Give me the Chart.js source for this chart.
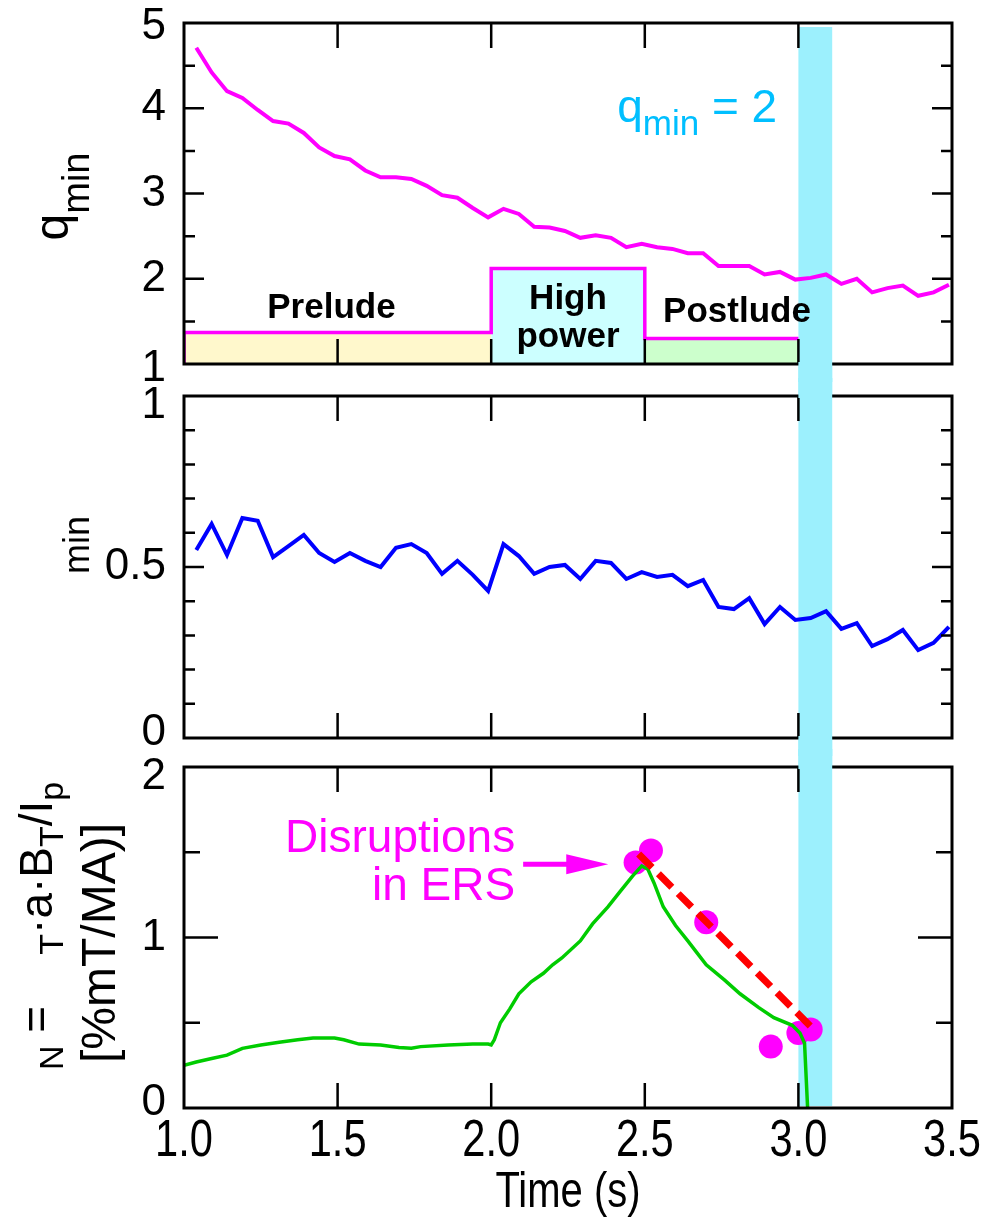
<!DOCTYPE html>
<html>
<head>
<meta charset="utf-8">
<script src="https://cdn.jsdelivr.net/npm/chart.js@4.4.1/dist/chart.umd.min.js"></script>
<style>
  body { margin: 0; background: #fff; }
  #wrap { position: relative; width: 985px; height: 1220px; overflow: hidden; }
  canvas { position: absolute; left: 0; }
</style>
</head>
<body>
<div id="wrap">
  <canvas id="c1" width="985" height="451" style="top:-32px"></canvas>
  <canvas id="c2" width="985" height="452" style="top:341px"></canvas>
  <canvas id="c3" width="985" height="508" style="top:712px"></canvas>
</div>
<script>
// ---- data ----
const sampleTime = [1.04, 1.09, 1.14, 1.19, 1.24, 1.29, 1.34, 1.39, 1.44, 1.49,
  1.54, 1.59, 1.64, 1.69, 1.74, 1.79, 1.84, 1.89, 1.94, 1.99,
  2.04, 2.09, 2.14, 2.19, 2.24, 2.29, 2.34, 2.39, 2.44, 2.49,
  2.54, 2.59, 2.64, 2.69, 2.74, 2.79, 2.84, 2.89, 2.94, 2.99,
  3.04, 3.09, 3.14, 3.19, 3.24, 3.29, 3.34, 3.39, 3.44, 3.49];
const qMin = [4.71, 4.42, 4.20, 4.12, 3.98, 3.85, 3.82, 3.71, 3.54, 3.44,
  3.40, 3.27, 3.19, 3.19, 3.17, 3.09, 2.98, 2.95, 2.83, 2.72,
  2.82, 2.76, 2.61, 2.60, 2.56, 2.48, 2.51, 2.48, 2.37, 2.41,
  2.37, 2.35, 2.30, 2.30, 2.15, 2.15, 2.15, 2.05, 2.08, 1.99,
  2.01, 2.05, 1.94, 2.00, 1.84, 1.89, 1.92, 1.80, 1.84, 1.93];
const betaMin = [0.550, 0.626, 0.535, 0.643, 0.635, 0.529, 0.561, 0.594, 0.541, 0.515,
  0.541, 0.518, 0.500, 0.556, 0.567, 0.541, 0.480, 0.518, 0.477, 0.430,
  0.567, 0.532, 0.480, 0.500, 0.506, 0.465, 0.518, 0.512, 0.465, 0.485,
  0.471, 0.477, 0.444, 0.462, 0.383, 0.377, 0.409, 0.333, 0.383, 0.345,
  0.351, 0.371, 0.319, 0.336, 0.269, 0.289, 0.316, 0.257, 0.278, 0.325];

const betaTime = [1.00, 1.04, 1.09, 1.14, 1.19, 1.25, 1.31, 1.37, 1.42, 1.49,
  1.52, 1.57, 1.64, 1.70, 1.74, 1.77, 1.86, 1.94, 1.99, 2.00,
  2.01, 2.03, 2.06, 2.09, 2.13, 2.17, 2.20, 2.23, 2.29, 2.33,
  2.38, 2.42, 2.46, 2.49, 2.51, 2.53, 2.56, 2.60, 2.64, 2.67,
  2.70, 2.76, 2.81, 2.87, 2.92, 2.98, 3.005, 3.02, 3.03];
const betaN = [0.25, 0.27, 0.29, 0.31, 0.35, 0.37, 0.385, 0.40, 0.41, 0.41,
  0.40, 0.375, 0.37, 0.355, 0.35, 0.36, 0.37, 0.375, 0.375, 0.37,
  0.40, 0.50, 0.58, 0.67, 0.74, 0.79, 0.84, 0.88, 0.98, 1.08,
  1.18, 1.27, 1.36, 1.42, 1.40, 1.32, 1.18, 1.07, 0.98, 0.91,
  0.84, 0.75, 0.67, 0.59, 0.53, 0.485, 0.44, 0.38, 0.0];

const disruptTime = [2.47, 2.52, 2.70, 2.91, 3.00, 3.04];
const disruptBeta = [1.44, 1.51, 1.09, 0.36, 0.44, 0.46];
const trendTime = [2.48, 3.05];
const trendBeta = [1.49, 0.46];

const phaseNames = ['Prelude', 'High power', 'Postlude'];
const phaseStart = [1.0, 2.0, 2.5];
const phaseEnd = [2.0, 2.5, 3.0];
const phaseLevel = [1.37, 2.12, 1.30];

const bandTime = [3.0, 3.11];   // q_min = 2 crossing

const xTicks = [1.0, 1.5, 2.0, 2.5, 3.0, 3.5];
const qTicks = [1, 2, 3, 4, 5];
const betaMinTicks = [0, 0.5, 1];
const betaNTicks = [0, 1, 2];

// ---- styles ----
const FONT = '"Liberation Sans", Arial, Helvetica, sans-serif';
const BAND = '#9cf0fd';
const PHASE_COLORS = ['#fff8cc', '#ccffff', '#ccffcc'];
const MAGENTA = '#ff00ff';
const GAP = 18;   // half of the white space between panels

const pts = (xs, ys) => xs.map((t, i) => ({ x: t, y: ys[i] }));

// text with subscripts, optionally rotated / squeezed
function rich(ctx, parts, x, y, o) {
  o = o || {};
  ctx.save();
  ctx.translate(x, y);
  if (o.rotate) ctx.rotate(-Math.PI / 2);
  if (o.squeeze) ctx.scale(o.squeeze, 1);
  ctx.fillStyle = o.color || '#000';
  ctx.textBaseline = o.baseline || 'alphabetic';
  ctx.textAlign = 'left';
  const fontOf = p => (o.bold ? 'bold ' : '') + p[1] + 'px ' + FONT;
  const w = parts.map(p => { ctx.font = fontOf(p); return ctx.measureText(p[0]).width; });
  const total = w.reduce((s, v) => s + v, 0);
  let u = o.align === 'center' ? -total / 2 : (o.align === 'right' ? -total : 0);
  parts.forEach((p, i) => {
    ctx.font = fontOf(p);
    ctx.fillText(p[0], u, p[2] || 0);
    u += w[i];
  });
  ctx.restore();
}

// frame, inward ticks, tick labels and the cyan band
const decor = {
  id: 'decor',
  beforeDatasetsDraw(chart, args, o) {
    const { ctx, chartArea: a, scales: { x } } = chart;
    const x0 = x.getPixelForValue(bandTime[0]), x1 = x.getPixelForValue(bandTime[1]);
    const top = o.first ? a.top + 4 : a.top - GAP;
    const bot = o.last ? a.bottom - 2 : a.bottom + GAP;
    ctx.save();
    ctx.fillStyle = BAND;
    ctx.fillRect(x0, top, x1 - x0, bot - top);
    ctx.restore();
  },
  afterDatasetsDraw(chart, args, o) {
    const { ctx, chartArea: a, scales: { x, y } } = chart;
    ctx.save();
    ctx.strokeStyle = '#000';
    ctx.lineWidth = 3;
    ctx.strokeRect(a.left, a.top, a.right - a.left, a.bottom - a.top);

    ctx.lineWidth = 2.5;
    ctx.beginPath();
    xTicks.slice(1, -1).forEach(v => {
      const px = x.getPixelForValue(v);
      ctx.moveTo(px, a.top); ctx.lineTo(px, a.top + 25);
      ctx.moveTo(px, a.bottom); ctx.lineTo(px, a.bottom - 25);
    });
    const yt = (v, len) => {
      const py = y.getPixelForValue(v);
      ctx.moveTo(a.left, py); ctx.lineTo(a.left + len, py);
      ctx.moveTo(a.right, py); ctx.lineTo(a.right - len, py);
    };
    o.yMajor.forEach(v => yt(v, o.majorLen));
    o.yMinor.forEach(v => yt(v, o.minorLen));
    ctx.stroke();

    // band runs over the frame between the panels
    const x0 = x.getPixelForValue(bandTime[0]), x1 = x.getPixelForValue(bandTime[1]);
    ctx.fillStyle = BAND;
    if (!o.first) ctx.fillRect(x0, a.top - GAP, x1 - x0, GAP + 2);
    if (!o.last) ctx.fillRect(x0, a.bottom - 2, x1 - x0, GAP + 2);
    ctx.restore();

    // y tick labels; the end labels sit a little inside the frame, as in the original
    const n = o.labels.length;
    o.labels.forEach((v, i) => {
      const nudge = i === 0 ? o.nudge[0] : (i === n - 1 ? o.nudge[1] : 0);
      rich(ctx, [[String(v), 44]], a.left - 18, y.getPixelForValue(v) + nudge,
        { align: 'right', baseline: 'middle' });
    });

    if (o.extra) o.extra(chart);
  }
};

function yScale(min, max) {
  return {
    min: min, max: max,
    grid: { display: false, drawTicks: false },
    border: { display: false },
    ticks: { display: false },
    afterFit: s => { s.width = 184; }
  };
}
const hiddenX = { type: 'linear', min: 1, max: 3.5, display: false };
const common = { responsive: false, animation: false, events: [] };

// ---- panel 1 : q_min ----
const phaseFills = phaseStart.map((s, i) => ({
  data: [{ x: s, y: phaseLevel[i] }, { x: phaseEnd[i], y: phaseLevel[i] }],
  fill: 'start', backgroundColor: PHASE_COLORS[i],
  borderWidth: 0, pointRadius: 0, order: 3
}));
const outline = [{ x: phaseStart[0], y: qTicks[0] }];
phaseStart.forEach((s, i) => {
  outline.push({ x: s, y: phaseLevel[i] }, { x: phaseEnd[i], y: phaseLevel[i] });
});

new Chart(document.getElementById('c1'), {
  type: 'line',
  data: {
    datasets: [
      { data: pts(sampleTime, qMin), borderColor: MAGENTA, borderWidth: 4, pointRadius: 0, order: 0 },
      { data: outline, borderColor: MAGENTA, borderWidth: 3.5, pointRadius: 0, fill: false, order: 1 },
      ...phaseFills
    ]
  },
  options: Object.assign({}, common, {
    layout: { padding: { left: 0, right: 33, top: 55, bottom: 55 } },
    plugins: {
      legend: { display: false }, tooltip: { enabled: false },
      decor: {
        first: true, labels: qTicks, nudge: [5, 4],
        yMajor: [2, 3, 4], yMinor: [1.5, 2.5, 3.5, 4.5], majorLen: 20, minorLen: 11,
        extra(chart) {
          const { ctx, chartArea: a, scales: { x, y } } = chart;
          rich(ctx, [['q', 48], ['min', 38, 21]], 68, (a.top + a.bottom) / 2 + 3, { rotate: true, align: 'center' });
          const cx = [1.48, 2.25, 2.80];
          rich(ctx, [[phaseNames[0], 35]], x.getPixelForValue(cx[0]), y.getPixelForValue(1.54), { bold: true, align: 'center' });
          const hp = phaseNames[1].split(' ');
          rich(ctx, [[hp[0], 35]], x.getPixelForValue(cx[1]), y.getPixelForValue(1.65), { bold: true, align: 'center' });
          rich(ctx, [[hp[1], 35]], x.getPixelForValue(cx[1]), y.getPixelForValue(1.20), { bold: true, align: 'center' });
          rich(ctx, [[phaseNames[2], 35]], x.getPixelForValue(cx[2]), y.getPixelForValue(1.49), { bold: true, align: 'center' });
          rich(ctx, [['q', 46], ['min', 35, 13], [' = 2', 46]],
            x.getPixelForValue(2.41), y.getPixelForValue(3.84), { color: '#00bfff' });
        }
      }
    },
    scales: { x: hiddenX, y: yScale(1, 5) }
  }),
  plugins: [decor]
});

// ---- panel 2 : beta_min ----
new Chart(document.getElementById('c2'), {
  type: 'line',
  data: {
    datasets: [
      { data: pts(sampleTime, betaMin), borderColor: '#0000ff', borderWidth: 4, pointRadius: 0 }
    ]
  },
  options: Object.assign({}, common, {
    layout: { padding: { left: 0, right: 33, top: 55, bottom: 55 } },
    plugins: {
      legend: { display: false }, tooltip: { enabled: false },
      decor: {
        labels: betaMinTicks, nudge: [-5, 10],
        yMajor: [0.5], yMinor: [0.1, 0.2, 0.3, 0.4, 0.6, 0.7, 0.8, 0.9], majorLen: 20, minorLen: 11,
        extra(chart) {
          const { ctx, chartArea: a } = chart;
          rich(ctx, [['min', 36]], 89, (a.top + a.bottom) / 2 - 22, { rotate: true, align: 'center' });
        }
      }
    },
    scales: { x: hiddenX, y: yScale(0, 1) }
  }),
  plugins: [decor]
});

// ---- panel 3 : beta_N ----
new Chart(document.getElementById('c3'), {
  type: 'line',
  data: {
    datasets: [
      { data: pts(trendTime, trendBeta), borderColor: '#ff0000', borderWidth: 7,
        borderDash: [19, 9], borderCapStyle: 'butt', pointRadius: 0, order: 0 },
      { data: pts(betaTime, betaN), borderColor: '#00cc00', borderWidth: 3.5, pointRadius: 0, order: 1 },
      { data: pts(disruptTime, disruptBeta), showLine: false, pointRadius: 12,
        pointBackgroundColor: MAGENTA, pointBorderWidth: 0, order: 2 }
    ]
  },
  options: Object.assign({}, common, {
    layout: { padding: { left: 0, right: 33, top: 55, bottom: 112 } },
    plugins: {
      legend: { display: false }, tooltip: { enabled: false },
      decor: {
        last: true, labels: betaNTicks, nudge: [-5, 10],
        yMajor: [1], yMinor: [0.5, 1.5], majorLen: 34, minorLen: 16,
        extra(chart) {
          const { ctx, chartArea: a, scales: { x, y } } = chart;
          rich(ctx, [['N', 34, 11], [' =    ', 46], ['T', 34, 11], ['\u00b7a\u00b7B', 46],
            ['T', 34, 11], ['/I', 46], ['p', 34, 11]], 52, a.bottom - 38, { rotate: true });
          rich(ctx, [['[%mT/MA)]', 48]], 115, (a.top + a.bottom) / 2 + 5.5, { rotate: true, align: 'center' });

          // shared time axis labels (narrow face, like the original)
          xTicks.forEach(v => {
            rich(ctx, [[v.toFixed(1), 52]], x.getPixelForValue(v), a.bottom + 48, { align: 'center', squeeze: 0.8 });
          });
          rich(ctx, [['Time (s)', 50]], (a.left + a.right) / 2, a.bottom + 99, { align: 'center', squeeze: 0.8 });

          const rx = x.getPixelForValue(2.078);
          rich(ctx, [['Disruptions', 46]], rx, y.getPixelForValue(1.50), { color: MAGENTA, align: 'right' });
          rich(ctx, [['in ERS', 46]], rx, y.getPixelForValue(1.22), { color: MAGENTA, align: 'right' });

          const ay = y.getPixelForValue(1.43);
          const ax0 = x.getPixelForValue(2.104), ax1 = x.getPixelForValue(2.381);
          ctx.save();
          ctx.strokeStyle = MAGENTA; ctx.fillStyle = MAGENTA; ctx.lineWidth = 5;
          ctx.beginPath(); ctx.moveTo(ax0, ay); ctx.lineTo(ax1 - 40, ay); ctx.stroke();
          ctx.beginPath(); ctx.moveTo(ax1, ay); ctx.lineTo(ax1 - 42, ay - 10); ctx.lineTo(ax1 - 42, ay + 10);
          ctx.closePath(); ctx.fill();
          ctx.restore();
        }
      }
    },
    scales: { x: hiddenX, y: yScale(0, 2) }
  }),
  plugins: [decor]
});
</script>
</body>
</html>
